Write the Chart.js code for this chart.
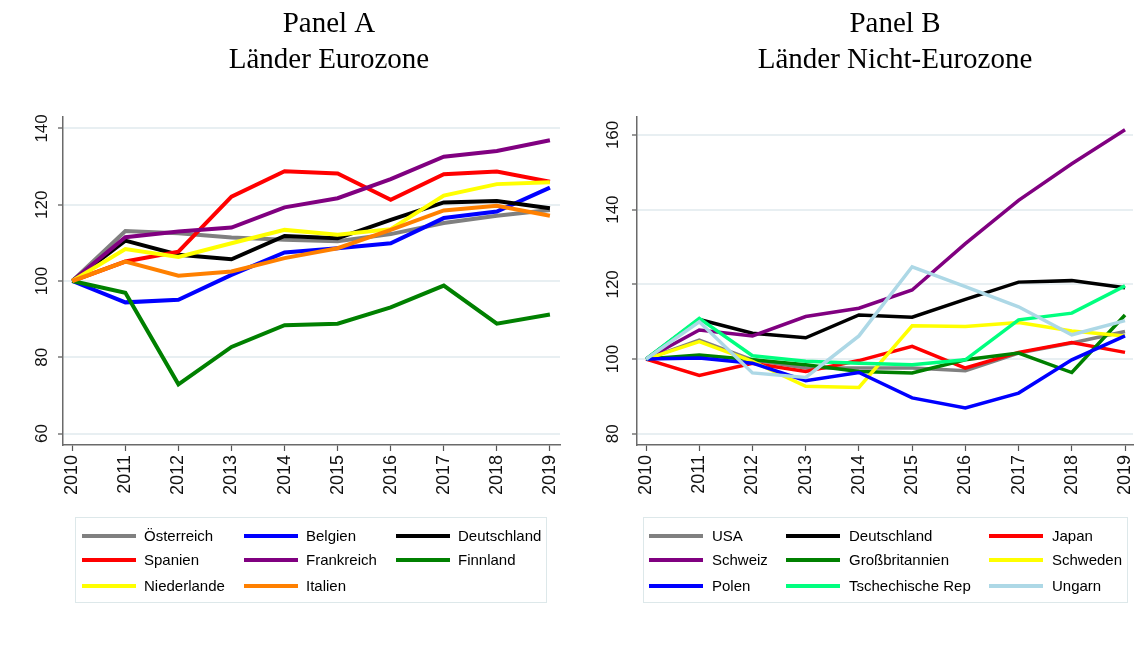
<!DOCTYPE html>
<html><head><meta charset="utf-8">
<script src="https://cdn.jsdelivr.net/npm/chart.js@4/dist/chart.umd.min.js"></script>
<style>
html,body{margin:0;padding:0;background:#fff;overflow:hidden;width:1139px;height:647px;position:relative;}
canvas{position:absolute;top:0;}
#cA{left:0px;}
#cB{left:580px;}
</style></head><body>
<canvas id="cA" width="658" height="647"></canvas>
<canvas id="cB" width="630" height="647"></canvas>
<script>
// ---- data ----
const years = [2010, 2011, 2012, 2013, 2014, 2015, 2016, 2017, 2018, 2019];
const yTicksA = [60, 80, 100, 120, 140];
const yTicksB = [80, 100, 120, 140, 160];
const titleA = ['Panel A', 'Länder Eurozone'];
const titleB = ['Panel B', 'Länder Nicht-Eurozone'];

// Panel A – Eurozone
const oesterreich = [100, 113.1, 112.5, 111.4, 110.8, 110.4, 112.3, 115.2, 117.1, 118.6];
const belgien     = [100, 94.4, 95.1, 101.6, 107.5, 108.6, 109.9, 116.5, 118.2, 124.5];
const deutschland = [100, 110.6, 106.9, 105.7, 111.8, 111.2, 116.0, 120.6, 121.0, 119.1];
const spanien     = [100, 105.1, 107.7, 122.1, 128.8, 128.2, 121.3, 128.0, 128.7, 126.0];
const frankreich  = [100, 111.5, 113.0, 114.0, 119.3, 121.7, 126.7, 132.6, 134.1, 136.9];
const finnland    = [100, 96.9, 72.9, 82.7, 88.4, 88.8, 93.1, 98.8, 88.8, 91.2];
const niederlande = [100, 108.4, 106.3, 109.9, 113.4, 112.1, 113.6, 122.4, 125.4, 125.9];
const italien     = [100, 105.1, 101.4, 102.5, 106.0, 108.6, 113.4, 118.5, 119.7, 117.1];

// Panel B – Nicht-Eurozone
const usa             = [100, 105.1, 99.8, 97.6, 97.6, 97.6, 96.9, 101.6, 104.3, 107.4];
const japan           = [100, 95.6, 98.9, 96.7, 99.6, 103.4, 97.6, 101.8, 104.4, 101.8];
const schweiz         = [100, 107.8, 106.2, 111.4, 113.6, 118.5, 130.9, 142.5, 152.3, 161.4];
const grossbritannien = [100, 101.1, 99.8, 98.5, 96.7, 96.3, 99.8, 101.6, 96.4, 111.8];
const schweden        = [100, 104.7, 99.4, 92.7, 92.4, 108.9, 108.7, 109.8, 107.5, 106.2];
const polen           = [100, 100.3, 98.9, 94.2, 96.4, 89.6, 86.9, 90.9, 99.8, 106.2];
const tschechien      = [100, 110.9, 100.9, 99.4, 98.9, 98.5, 99.8, 110.5, 112.3, 119.6];
const ungarn          = [100, 110.0, 96.3, 95.1, 106.2, 124.7, 119.4, 114.0, 106.5, 110.3];

const seriesA = [
  ['Österreich', oesterreich, '#808080'],
  ['Belgien', belgien, '#0000ff'],
  ['Deutschland', deutschland, '#000000'],
  ['Spanien', spanien, '#ff0000'],
  ['Frankreich', frankreich, '#800080'],
  ['Finnland', finnland, '#008000'],
  ['Niederlande', niederlande, '#ffff00'],
  ['Italien', italien, '#ff8000']
];
const seriesB = [
  ['USA', usa, '#808080'],
  ['Deutschland', deutschland, '#000000'],
  ['Japan', japan, '#ff0000'],
  ['Schweiz', schweiz, '#800080'],
  ['Großbritannien', grossbritannien, '#008000'],
  ['Schweden', schweden, '#ffff00'],
  ['Polen', polen, '#0000ff'],
  ['Tschechische Rep', tschechien, '#00ff7f'],
  ['Ungarn', ungarn, '#add8e6']
];

// ---- legend plugin (box with 3 columns) ----
const boxLegend = {
  id: 'boxLegend',
  afterDraw(chart, args, o) {
    const ctx = chart.ctx;
    ctx.save();
    ctx.strokeStyle = o.borderColor;
    ctx.lineWidth = 1;
    ctx.strokeRect(o.box[0] + 0.5, o.box[1] + 0.5, o.box[2], o.box[3]);
    ctx.font = o.font;
    ctx.textBaseline = 'middle';
    ctx.textAlign = 'left';
    chart.data.datasets.forEach((ds, i) => {
      const x = o.cols[i % 3], y = o.rows[Math.floor(i / 3)];
      ctx.strokeStyle = ds.borderColor;
      ctx.lineWidth = o.sampleWidth;
      ctx.beginPath(); ctx.moveTo(x, y); ctx.lineTo(x + o.sampleLen, y); ctx.stroke();
      ctx.fillStyle = '#000';
      ctx.fillText(ds.label, x + o.sampleLen + o.gap, y + 1);
    });
    ctx.restore();
  }
};

function makeChart(id, series, title, yTicks, cfg) {
  const n = series.length;
  return new Chart(document.getElementById(id), {
    type: 'line',
    data: {
      datasets: series.map((s, i) => ({
        label: s[0],
        data: years.map((yr, k) => ({x: yr, y: s[1][k]})),
        borderColor: s[2],
        backgroundColor: s[2],
        borderWidth: cfg.lineWidth,
        pointRadius: 0,
        tension: 0,
        fill: false,
        order: n - i
      }))
    },
    options: {
      responsive: false,
      animation: false,
      devicePixelRatio: 1,
      layout: {padding: 0},
      plugins: {
        legend: {display: false},
        tooltip: {enabled: false},
        title: {
          display: true,
          text: title,
          color: '#000',
          font: {family: '"Liberation Serif", "Times New Roman", serif', size: 29, weight: 'normal', lineHeight: 1.25},
          padding: {top: 6, bottom: 38.5}
        },
        boxLegend: cfg.legend
      },
      scales: {
        x: {
          type: 'linear',
          min: cfg.xMin, max: cfg.xMax,
          afterBuildTicks: a => { a.ticks = years.map(v => ({value: v})); },
          afterFit: s => { s.height = 202; },
          grid: {drawOnChartArea: false, tickColor: '#555', tickLength: 6, tickWidth: 1.2},
          border: {color: '#6a6a6a', width: 1.5},
          ticks: {
            minRotation: 90, maxRotation: 90, padding: 4, color: '#111',
            font: {family: '"Liberation Sans", Arial, sans-serif', size: 18},
            callback: v => String(v)
          }
        },
        y: {
          type: 'linear',
          position: 'left',
          min: cfg.yMin, max: cfg.yMax,
          afterBuildTicks: a => { a.ticks = yTicks.map(v => ({value: v})); },
          afterFit: s => { s.width = cfg.yAxisWidth; },
          grid: {color: '#e8eff2', lineWidth: 2, tickColor: '#555', tickLength: 5, tickWidth: 1.2},
          border: {color: '#6a6a6a', width: 1.5},
          ticks: {
            minRotation: 90, maxRotation: 90, crossAlign: 'center', padding: cfg.yPad, color: '#111',
            font: {family: '"Liberation Sans", Arial, sans-serif', size: 17}
          }
        },
        yR: {
          position: 'right',
          display: true,
          grid: {display: false, drawTicks: false},
          border: {display: false},
          ticks: {display: false},
          afterFit: s => { s.width = cfg.rightWidth; }
        }
      }
    },
    plugins: [boxLegend]
  });
}

makeChart('cA', seriesA, titleA, yTicksA, {
  lineWidth: 4,
  xMin: 2009.825, xMax: 2019.19,
  yMin: 57, yMax: 143,
  yAxisWidth: 63, rightWidth: 98, yPad: 2,
  legend: {
    box: [75, 517, 471, 85], borderColor: '#dde8ea',
    cols: [82, 244, 396], rows: [536, 560, 586],
    sampleLen: 54, sampleWidth: 4, gap: 8,
    font: '15px "Liberation Sans", Arial, sans-serif'
  }
});

makeChart('cB', seriesB, titleB, yTicksB, {
  lineWidth: 3.5,
  xMin: 2009.83, xMax: 2019.15,
  yMin: 77, yMax: 164.8,
  yAxisWidth: 57, rightWidth: 77, yPad: 5,
  legend: {
    box: [63, 517, 484, 85], borderColor: '#dde8ea',
    cols: [69, 206, 409], rows: [536, 560, 586],
    sampleLen: 54, sampleWidth: 4, gap: 9,
    font: '15px "Liberation Sans", Arial, sans-serif'
  }
});
</script>
</body></html>
